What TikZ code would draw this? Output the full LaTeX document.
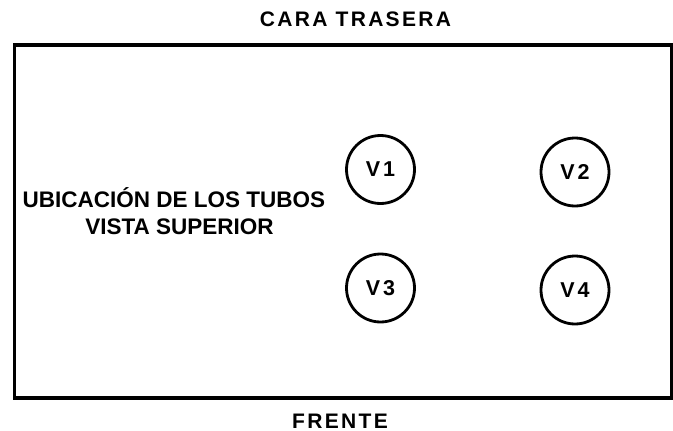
\documentclass[tikz,border=0pt]{standalone}
\usepackage{fontspec}
\setmainfont{Liberation Sans}
\newfontfamily\spaced{Liberation Sans}[LetterSpace=11]
\begin{document}
\begin{tikzpicture}[x=1pt,y=-1pt,
  lbl/.style={inner sep=0pt,anchor=base,font=\bfseries\fontsize{22.5}{27}\selectfont},
  head/.style={inner sep=0pt,anchor=base,text depth=0pt,font=\spaced\bfseries\fontsize{21}{25}\selectfont},
  tube/.style={circle,draw,line width=2.8pt,minimum size=68pt,inner sep=0pt,font=\bfseries\fontsize{21.5}{25}\selectfont}]
\useasboundingbox (0,0) rectangle (673,431);
\node[draw,line width=3.5pt,minimum width=657.5pt,minimum height=353pt,inner sep=0pt,anchor=north west] (box) at (12.5,43) {};
\node[head] (back) at (355.5,27) {CARA TRASERA};
\node[head] (front) at (340,428) {FRENTE};
\node[lbl] (t1) at (174,207) {UBICACIÓN DE LOS TUBOS};
\node[lbl] (t2) at (179.5,234) {VISTA SUPERIOR};
\node[tube] (v1) at (380.5,169.5) {V\kern3pt 1};
\node[tube] (v2) at (575,172) {V\kern3pt 2};
\node[tube] (v3) at (380.5,288) {V\kern3pt 3};
\node[tube] (v4) at (575,290) {V\kern3pt 4};
\end{tikzpicture}
\end{document}
